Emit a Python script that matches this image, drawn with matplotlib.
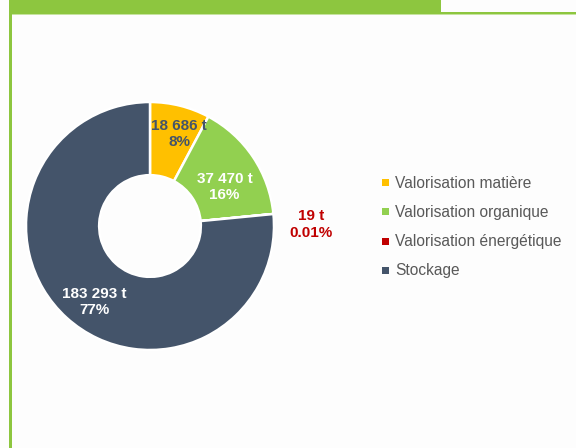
import matplotlib
matplotlib.use("Agg")
import matplotlib.pyplot as plt
from matplotlib.patches import Rectangle
import numpy as np

plt.rcParams['font.family'] = ['Liberation Sans', 'DejaVu Sans']

# tonnages par filière
categories = ["Valorisation matière", "Valorisation organique",
              "Valorisation énergétique", "Stockage"]
tonnes = [18686, 37470, 19, 183293]
pct_labels = ["8%", "16%", "0.01%", "77%"]
colors = ["#FFC000", "#92D050", "#C00000", "#44546A"]
label_colors = ["#44546A", "white", "#C00000", "white"]

W, H = 576, 448
fig = plt.figure(figsize=(W / 100, H / 100), dpi=100)
fig.patch.set_facecolor("#FDFDFD")

# cadre vert : bandeau, filet et bord gauche
def px_rect(x, y, w, h, color):
    fig.patches.append(Rectangle((x / W, 1 - (y + h) / H), w / W, h / H,
                                 transform=fig.transFigure, color=color,
                                 lw=0, zorder=0))

px_rect(9, 0, 432, 12, "#8DC63F")
px_rect(9, 12, W - 9, 2, "#8DC63F")
px_rect(12, 14, W - 12, 1, "#C6E39F")
px_rect(9, 12, 3, H - 12, "#8DC63F")

# anneau
cx, cy, r = 150, 226, 124
ax = fig.add_axes([(cx - r) / W, (H - cy - r) / H, 2 * r / W, 2 * r / H])
wedges, _ = ax.pie(tonnes, colors=colors, startangle=90, counterclock=False,
                   radius=1, wedgeprops=dict(width=0.59, edgecolor="white",
                                             linewidth=1.8))
ax.set_xlim(-1, 1)
ax.set_ylim(-1, 1)
ax.set_aspect("equal")
ax.axis("off")

label_r = [0.78, 0.68, 1.3, 0.76]
angle_shift = [-3.5, -6, -5, 6]
for w, t, p, c, lr, da in zip(wedges, tonnes, pct_labels, label_colors,
                              label_r, angle_shift):
    mid = np.deg2rad((w.theta1 + w.theta2) / 2 + da)
    txt = f"{t:,} t".replace(",", " ") + "\n" + p
    ax.text(lr * np.cos(mid), lr * np.sin(mid), txt, ha="center", va="center",
            color=c, fontsize=11, fontweight="bold", linespacing=1.2,
            clip_on=False)

# légende
for i, (name, col) in enumerate(zip(categories, colors)):
    y = 183 + i * 29
    fig.patches.append(Rectangle((382 / W, 1 - (y + 3.5) / H), 7 / W, 7 / H,
                                 transform=fig.transFigure, color=col, lw=0))
    fig.text(395 / W, 1 - y / H, name, ha="left", va="center",
             fontsize=11.2, color="#595959")

fig.savefig("out.png", dpi=100, facecolor=fig.get_facecolor())
